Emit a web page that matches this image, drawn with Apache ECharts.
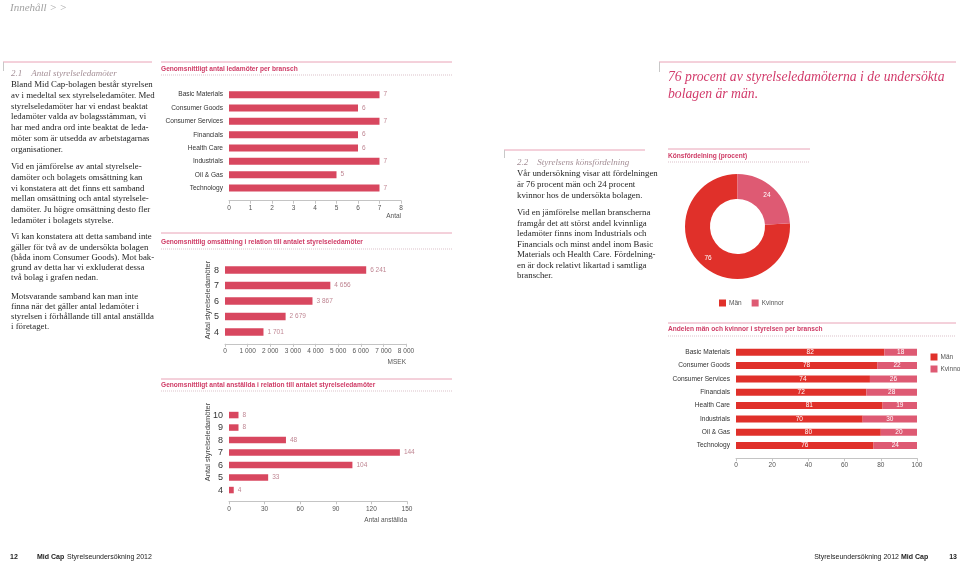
<!DOCTYPE html>
<html><head><meta charset="utf-8">
<script src="https://cdn.jsdelivr.net/npm/echarts@6/dist/echarts.min.js"></script>
<style>html,body{margin:0;padding:0;background:#fff}#c{width:960px;height:562px}</style>
</head><body><div id="c"></div><script>
// ---------- data ----------
const industries = ['Basic Materials', 'Consumer Goods', 'Consumer Services', 'Financials', 'Health Care', 'Industrials', 'Oil & Gas', 'Technology'];
const boardSizeByIndustry = [7, 6, 7, 6, 6, 7, 5, 7];
const revenueBoardSizes = ['8', '7', '6', '5', '4'];
const revenueByBoardSize = [6241, 4656, 3867, 2679, 1701];
const employeeBoardSizes = ['10', '9', '8', '7', '6', '5', '4'];
const employeesByBoardSize = [8, 8, 48, 144, 104, 33, 4];
const genderLabels = ['Män', 'Kvinnor'];
const genderShares = [76, 24];
const menShareByIndustry = [82, 78, 74, 72, 81, 70, 80, 76];
const womenShareByIndustry = [18, 22, 26, 28, 19, 30, 20, 24];

const para1 = ['Bland Mid Cap-bolagen består styrelsen', 'av i medeltal sex styrelseledamöter. Med', 'styrelseledamöter har vi endast beaktat', 'ledamöter valda av bolagsstämman, vi', 'har med andra ord inte beaktat de leda-', 'möter som är utsedda av arbetstagarnas', 'organisationer.'];
const para2 = ['Vid en jämförelse av antal styrelsele-', 'damöter och bolagets omsättning kan', 'vi konstatera att det finns ett samband', 'mellan omsättning och antal styrelsele-', 'damöter. Ju högre omsättning desto fler', 'ledamöter i bolagets styrelse.'];
const para3 = ['Vi kan konstatera att detta samband inte', 'gäller för två av de undersökta bolagen', '(båda inom Consumer Goods). Mot bak-', 'grund av detta har vi exkluderat dessa', 'två bolag i grafen nedan.'];
const para4 = ['Motsvarande samband kan man inte', 'finna när det gäller antal ledamöter i', 'styrelsen i förhållande till antal anställda', 'i företaget.'];
const para5 = ['Vår undersökning visar att fördelningen', 'är 76 procent män och 24 procent', 'kvinnor hos de undersökta bolagen.'];
const para6 = ['Vid en jämförelse mellan branscherna', 'framgår det att störst andel kvinnliga', 'ledamöter finns inom Industrials och', 'Financials och minst andel inom Basic', 'Materials och Health Care. Fördelning-', 'en är dock relativt likartad i samtliga', 'branscher.'];

// ---------- styles ----------
const SANS = "'Liberation Sans', Arial, sans-serif";
const SERIF = "'Liberation Serif', 'Times New Roman', serif";
const BAR = '#d8475f';
const MEN = '#e0302a';
const WOMEN = '#de5a73';
const RULE = '#e9a2b6';
const DOT = '#dcc2ca';
const TITLE = '#cf3c66';
const VALC = '#bf8592';
const fmt = v => String(v).replace(/\B(?=(\d{3})+(?!\d))/g, ' ');

const g = [];
function txt(x, y, text, o) {
  o = o || {};
  g.push({ type: 'text', silent: true, x: o.px || 0, y: o.py || 0, rotation: o.rot || 0,
    style: { text, x: o.px ? 0 : x, y: o.py ? 0 : y, fill: o.color || '#222',
      font: (o.style || '') + ' ' + (o.weight || 'normal') + ' ' + (o.size || 9) + 'px ' + (o.family || SERIF),
      align: o.align || 'left', verticalAlign: o.va || 'middle', lineHeight: o.lh || undefined } });
}
function para(x, y, lines, lh) {
  txt(x, y - lh / 2, lines.join('\n'), { size: 8.8, color: '#262626', va: 'top', lh });
}
function line(x1, y1, x2, y2, color, dash) {
  g.push({ type: 'line', silent: true, shape: { x1, y1, x2, y2 },
    style: { stroke: color, lineWidth: 1, lineDash: dash || null } });
}
function chartHead(x1, x2, yRule, yTitle, yDot, title) {
  line(x1, yRule, x2, yRule, RULE);
  txt(x1, yTitle, title, { family: SANS, weight: 'bold', size: 6.6, color: TITLE });
  line(x1, yDot, x2, yDot, DOT, [1, 1]);
}

// header / footer
txt(10, 8, 'Innehåll > >', { style: 'italic', size: 11, color: '#a3a3a3' });
txt(10, 557, '12', { family: SANS, weight: 'bold', size: 7, color: '#222' });
txt(37, 557, 'Mid Cap', { family: SANS, weight: 'bold', size: 7, color: '#222' });
txt(67, 557, 'Styrelseundersökning 2012', { family: SANS, size: 7, color: '#222' });
txt(899, 557, 'Styrelseundersökning 2012', { family: SANS, size: 7, color: '#222', align: 'right' });
txt(901, 557, 'Mid Cap', { family: SANS, weight: 'bold', size: 7, color: '#222' });
txt(957, 557, '13', { family: SANS, weight: 'bold', size: 7, color: '#222', align: 'right' });

// left column
line(3, 62, 152, 62, RULE);
line(3.5, 62, 3.5, 71, '#c8c8c8');
txt(11, 74, '2.1    Antal styrelseledamöter', { style: 'italic', size: 9, color: '#a48f96' });
para(11, 85, para1, 10.7);
para(11, 167, para2, 10.7);
para(11, 237, para3, 10.2);
para(11, 297, para4, 10);

// middle text column
line(504, 150, 645, 150, RULE);
line(504.5, 150, 504.5, 158, '#c8c8c8');
txt(517, 163, '2.2    Styrelsens könsfördelning', { style: 'italic', size: 9, color: '#a48f96' });
para(517, 174, para5, 10.8);
para(517, 213, para6, 10.5);

// right title
line(659, 62, 956, 62, RULE);
line(659.5, 62, 659.5, 72, '#c8c8c8');
txt(668, 77, '76 procent av styrelseledamöterna i de undersökta', { style: 'italic', size: 13.7, color: '#d23b6b' });
txt(668, 94, 'bolagen är män.', { style: 'italic', size: 13.7, color: '#d23b6b' });

// chart headers
chartHead(161, 452, 62, 69, 75, 'Genomsnittligt antal ledamöter per bransch');
chartHead(161, 452, 233, 242, 249, 'Genomsnittlig omsättning i relation till antalet styrelseledamöter');
chartHead(161, 452, 379, 385, 391, 'Genomsnittligt antal anställda i relation till antalet styrelseledamöter');
chartHead(668, 810, 149, 156, 162, 'Könsfördelning (procent)');
chartHead(668, 956, 323, 329, 336, 'Andelen män och kvinnor i styrelsen per bransch');

// axis names
txt(401, 216, 'Antal', { family: SANS, size: 6.5, color: '#555', align: 'right' });
txt(406, 362, 'MSEK', { family: SANS, size: 6.5, color: '#555', align: 'right' });
txt(407, 520, 'Antal anställda', { family: SANS, size: 6.5, color: '#555', align: 'right' });
txt(0, 0, 'Antal styrelseledamöter', { family: SANS, size: 7.5, color: '#444', align: 'center', px: 208, py: 300, rot: Math.PI / 2 });
txt(0, 0, 'Antal styrelseledamöter', { family: SANS, size: 7.5, color: '#444', align: 'center', px: 208, py: 442, rot: Math.PI / 2 });

// ---------- chart option ----------
function vAxis(gi, max, interval, offset, formatter) {
  return { type: 'value', gridIndex: gi, min: 0, max, interval, offset,
    axisLine: { show: true, lineStyle: { color: '#c4c4c4', width: 1 } },
    axisTick: { show: true, length: 3, lineStyle: { color: '#c4c4c4' } },
    splitLine: { show: false },
    axisLabel: { fontSize: 6.5, color: '#555', fontFamily: SANS, margin: 4, formatter: formatter || (v => v) } };
}
function cAxis(gi, data, size, margin) {
  return { type: 'category', gridIndex: gi, data, inverse: true,
    axisLine: { show: false }, axisTick: { show: false }, splitLine: { show: false },
    axisLabel: { fontSize: size, color: '#333', fontFamily: SANS, margin } };
}
function barSeries(i, data, bw, formatter) {
  return { type: 'bar', xAxisIndex: i, yAxisIndex: i, data, barWidth: bw, silent: true,
    itemStyle: { color: BAR }, emphasis: { disabled: true },
    label: { show: true, position: 'right', distance: 4, fontSize: 6.5, fontFamily: SANS, color: VALC, formatter: formatter || (p => p.value) } };
}

const option = {
  animation: false,
  backgroundColor: '#fff',
  textStyle: { fontFamily: SANS },
  grid: [
    { left: 229, top: 88, width: 172, height: 106.7, outerBoundsMode: 'none', containLabel: false },
    { left: 225, top: 262.3, width: 181, height: 77.5, outerBoundsMode: 'none', containLabel: false },
    { left: 229, top: 408.8, width: 178, height: 87.5, outerBoundsMode: 'none', containLabel: false },
    { left: 736, top: 345.6, width: 181, height: 106.6, outerBoundsMode: 'none', containLabel: false }
  ],
  xAxis: [
    vAxis(0, 8, 1, 6),
    vAxis(1, 8000, 1000, 4, fmt),
    vAxis(2, 150, 30, 5),
    vAxis(3, 100, 20, 6)
  ],
  yAxis: [
    cAxis(0, industries, 6.6, 6),
    cAxis(1, revenueBoardSizes, 9, 6),
    cAxis(2, employeeBoardSizes, 9, 6),
    cAxis(3, industries, 6.6, 6)
  ],
  legend: [
    { data: genderLabels, left: 714, top: 294.5, orient: 'horizontal', icon: 'rect', itemWidth: 7, itemHeight: 7, itemGap: 10,
      selectedMode: false, textStyle: { fontSize: 6.5, color: '#555', fontFamily: SANS, padding: [0, 0, 0, -2] } },
    { data: genderLabels, left: 925.5, top: 348.5, orient: 'vertical', icon: 'rect', itemWidth: 7, itemHeight: 7, itemGap: 5,
      selectedMode: false, textStyle: { fontSize: 6.5, color: '#555', fontFamily: SANS, padding: [0, 0, 0, -2] } }
  ],
  series: [
    barSeries(0, boardSizeByIndustry, 7),
    barSeries(1, revenueByBoardSize, 7.5, p => fmt(p.value)),
    barSeries(2, employeesByBoardSize, 6.5),
    { type: 'bar', name: genderLabels[0], stack: 'g', xAxisIndex: 3, yAxisIndex: 3, data: menShareByIndustry, barWidth: 7, silent: true,
      itemStyle: { color: MEN }, emphasis: { disabled: true },
      label: { show: true, position: 'inside', fontSize: 6.5, color: '#fff', fontFamily: SANS } },
    { type: 'bar', name: genderLabels[1], stack: 'g', xAxisIndex: 3, yAxisIndex: 3, data: womenShareByIndustry, barWidth: 7, silent: true,
      itemStyle: { color: WOMEN }, emphasis: { disabled: true },
      label: { show: true, position: 'inside', fontSize: 6.5, color: '#fff', fontFamily: SANS } },
    { type: 'pie', center: [737.5, 226.5], radius: [27.5, 52.5], clockwise: false, startAngle: 90, silent: true,
      padAngle: 0, emphasis: { disabled: true },
      itemStyle: { borderWidth: 0 },
      label: { show: true, position: 'inside', color: '#fff', fontSize: 6.5, fontFamily: SANS, formatter: p => p.value },
      labelLine: { show: false },
      data: genderLabels.map((n, i) => ({ name: n, value: genderShares[i], itemStyle: { color: i === 0 ? MEN : WOMEN } })) }
  ],
  graphic: { elements: g }
};

const chart = echarts.init(document.getElementById('c'), null, { renderer: 'canvas' });
chart.setOption(option);
</script></body></html>
